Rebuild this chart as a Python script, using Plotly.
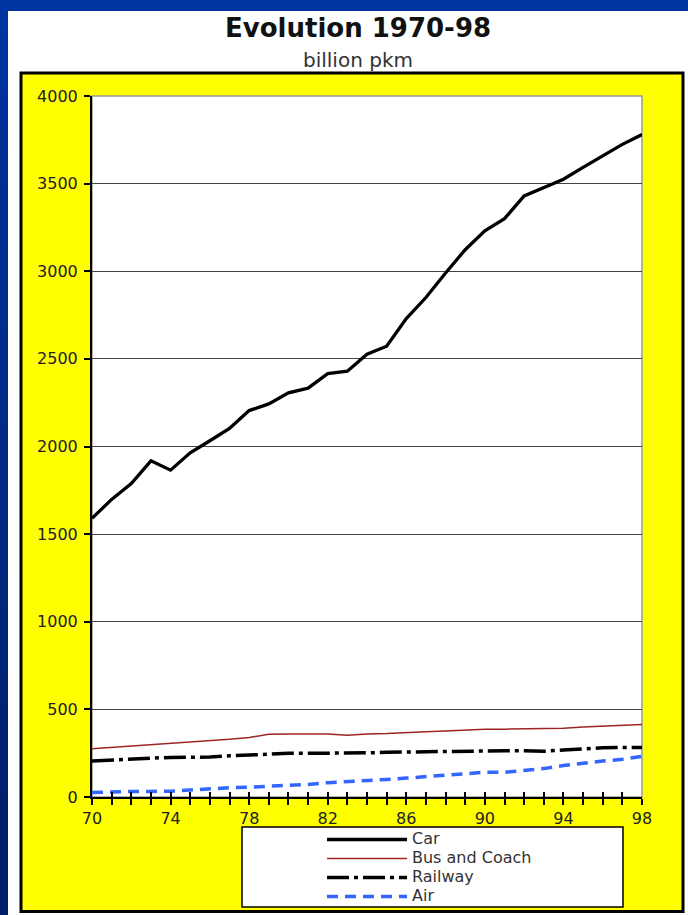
import plotly.graph_objects as go

years = list(range(1970, 1999))
year_labels = ["70", "", "", "", "74", "", "", "", "78", "", "", "", "82", "", "", "", "86", "", "", "", "90", "", "", "", "94", "", "", "", "98"]
car = [1590, 1698, 1789, 1918, 1865, 1964, 2033, 2103, 2205, 2243, 2306, 2333, 2416, 2430, 2527,
       2572, 2730, 2850, 2990, 3123, 3231, 3300, 3430, 3480, 3525, 3593, 3661, 3724, 3780]
bus = [276, 283, 291, 301, 308, 314, 321, 329, 340, 358, 360, 360, 360, 352, 360,
       362, 369, 372, 376, 383, 387, 387, 388, 389, 393, 400, 405, 410, 413]
railway = [205, 212, 217, 222, 226, 226, 228, 235, 240, 247, 249, 249, 249, 250, 252,
           255, 257, 259, 263, 264, 264, 264, 264, 261, 268, 275, 281, 282, 282]
air = [25, 30, 32, 32, 33, 40, 48, 53, 56, 60, 64, 72, 82, 87, 93,
       100, 108, 116, 124, 135, 141, 141, 150, 162, 180, 195, 205, 215, 232]
y_ticks = [0, 500, 1000, 1500, 2000, 2500, 3000, 3500, 4000]
series_names = ["Car", "Bus and Coach", "Railway", "Air"]

W, H = 688, 915
L, R, T, B = 92, 46, 96, 118
PW, PH = W - L - R, H - T - B


def fx(px):
    return (px - L) / PW


def fy(py):
    return (H - B - py) / PH


FONT = "DejaVu Sans, Verdana, sans-serif"


def legend_name(s):
    return f'<span style="font-size:16px">{s}</span>'


fig = go.Figure()
fig.add_trace(go.Scatter(x=years, y=car, mode="lines", name=legend_name(series_names[0]),
                         line=dict(color="black", width=3.3)))
fig.add_trace(go.Scatter(x=years, y=bus, mode="lines", name=legend_name(series_names[1]),
                         line=dict(color="#9e2424", width=1.5)))
fig.add_trace(go.Scatter(x=years, y=railway, mode="lines", name=legend_name(series_names[2]),
                         line=dict(color="black", width=3.5, dash="22px,5px,4px,5px")))
fig.add_trace(go.Scatter(x=years, y=air, mode="lines", name=legend_name(series_names[3]),
                         line=dict(color="#3366ff", width=3.5, dash="11px,7px")))
# invisible trace so the overlay axis (inner half of the crossing ticks) is drawn
fig.add_trace(go.Scatter(x=[years[0]], y=[None], xaxis="x2", yaxis="y",
                         mode="lines", showlegend=False, hoverinfo="skip"))

shapes = []
# blue background strips (vertical gradient)
n = 30
for i in range(n):
    t = i / (n - 1)
    r, g, b = 0, int(52 - 22 * t), int(160 - 55 * t)
    y0 = H * i / n
    y1 = H * (i + 1) / n + 1
    shapes.append(dict(type="rect", xref="paper", yref="paper", layer="below",
                       x0=fx(0), x1=fx(8), y0=fy(y0), y1=fy(y1),
                       fillcolor=f"rgb({r},{g},{b})", line=dict(width=0)))
shapes.append(dict(type="rect", xref="paper", yref="paper", layer="below",
                   x0=fx(0), x1=fx(W), y0=fy(0), y1=fy(11),
                   fillcolor="rgb(0,52,160)", line=dict(width=0)))
# yellow panel
shapes.append(dict(type="rect", xref="paper", yref="paper", layer="below",
                   x0=fx(21), x1=fx(683), y0=fy(73), y1=fy(911.5),
                   fillcolor="#ffff00", line=dict(color="black", width=3)))
# white plot area
shapes.append(dict(type="rect", xref="paper", yref="paper", layer="below",
                   x0=0, x1=1, y0=0, y1=1,
                   fillcolor="white", line=dict(color="#999999", width=1.5)))
# legend box
shapes.append(dict(type="rect", xref="paper", yref="paper", layer="below",
                   x0=fx(242), x1=fx(623), y0=fy(827), y1=fy(907),
                   fillcolor="white", line=dict(color="black", width=1.5)))

annotations = [
    dict(text="<b>Evolution 1970-98</b>", xref="paper", yref="paper",
         x=fx(358), y=fy(28), xanchor="center", yanchor="middle", showarrow=False,
         font=dict(family=FONT, size=26, color="#111111")),
    dict(text="billion pkm", xref="paper", yref="paper",
         x=fx(358), y=fy(60), xanchor="center", yanchor="middle", showarrow=False,
         font=dict(family=FONT, size=20, color="#333333")),
]

fig.update_layout(
    width=W, height=H,
    margin=dict(l=L, r=R, t=T, b=B, pad=0, autoexpand=False),
    paper_bgcolor="white",
    plot_bgcolor="rgba(0,0,0,0)",
    shapes=shapes,
    annotations=annotations,
    font=dict(family=FONT, size=14, color="#222222"),
    showlegend=True,
    legend=dict(x=fx(322), y=fy(825), xanchor="left", yanchor="top",
                bgcolor="rgba(0,0,0,0)", borderwidth=0,
                font=dict(family=FONT, size=12, color="#333333"),
                itemwidth=80, tracegroupgap=0),
    xaxis=dict(range=[1970, 1998], tickvals=years, ticktext=year_labels,
               ticks="outside", ticklen=6, tickwidth=2, tickcolor="black",
               showline=True, linecolor="black", linewidth=2,
               showgrid=False, zeroline=False,
               tickfont=dict(family=FONT, size=16, color="#222222")),
    xaxis2=dict(range=[1970, 1998], overlaying="x", anchor="y", side="bottom",
                tickvals=years, ticks="inside", ticklen=5, tickwidth=2,
                tickcolor="black", showticklabels=False, showgrid=False,
                zeroline=False, showline=False),
    yaxis=dict(range=[0, 4000], tickvals=y_ticks,
               ticks="outside", ticklen=6, tickwidth=1.5, tickcolor="black",
               showline=True, linecolor="black", linewidth=2,
               showgrid=True, gridcolor="#444444", gridwidth=1.2,
               zeroline=False, ticklabelstandoff=3,
               tickfont=dict(family=FONT, size=16, color="#222222")),
)

fig.write_html("out.html")
